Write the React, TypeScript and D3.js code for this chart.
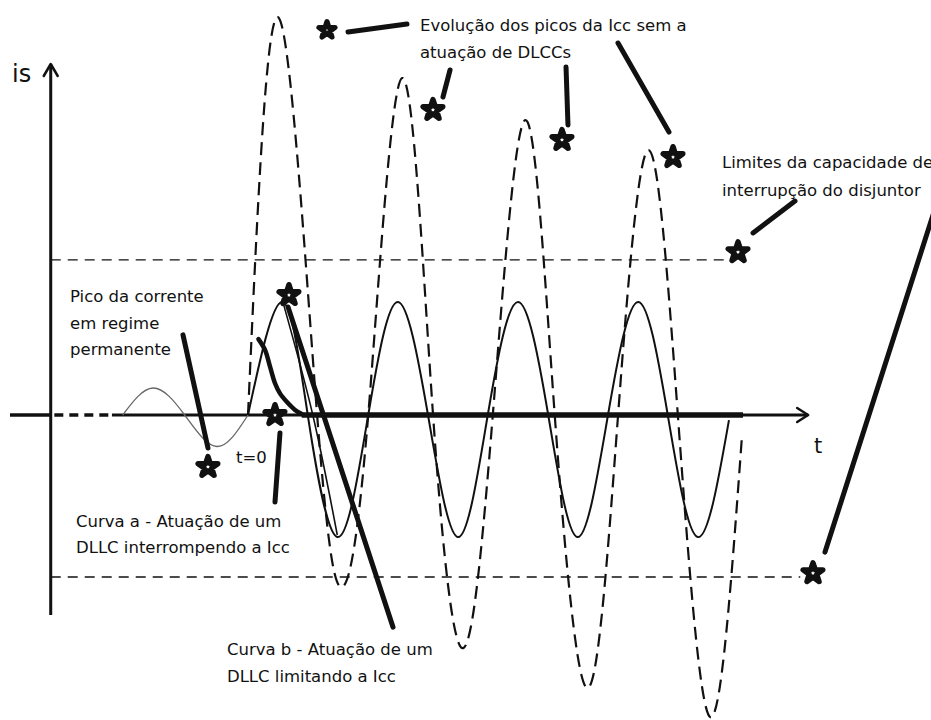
import React from "react";
import * as d3 from "d3";

const W = 931;
const H = 720;

// time in ms (t = 0 at fault inception), current in p.u. of the steady-state peak scale
const steadyT = [-17.4, -13.2, -8.8, -4.3, 0];
const steadyI = [0, 0.9, 0, -1.05, 0];

const faultT = [0, 4.7, 8.3, 12.5, 16.7, 20.8, 25, 29.2, 33.3, 37.5, 41.7, 45.8, 50, 54.2, 58.3, 62.5, 66.8];
const faultI = [0, 3.77, 0, -4.07, 0, 3.77, 0, -4.07, 0, 3.77, 0, -4.07, 0, 3.77, 0, -4.07, -0.17];

const limitedT = [4.9, 9.0, 12.4];
const limitedI = [3.72, 0, -4.0];

const prospectiveT = [0, 4.3, 9.6, 13.1, 16.7, 21.4, 25.7, 29.9, 34.0, 38.5, 42.6, 47.2, 51.4, 55.6, 59.7, 64.2, 68.6];
const prospectiveI = [0, 13.23, 0, -5.73, 0, 11.23, 0, -7.77, 0, 9.83, 0, -9.1, 0, 8.83, 0, -10.07, -0.73];

const curveAT = [1.45, 2.36, 3.06, 3.75, 4.44, 5.38, 6.53, 7.46];
const curveAI = [2.53, 2.17, 1.61, 1.06, 0.72, 0.44, 0.17, 0.03];
const curveAEndT = 68.75;

const limitLevels = [5.17, -5.4];
const limitEndT = [67.6, 76.7];

const axisT = -27.4;
const axisStartT = -33.06;
const axisDashT = [-26.9, -19.2];
const axisSolidT = -18.9;
const axisEndT = 77.8;
const axisIMin = -6.67;
const axisIMax = 11.7;

const starT = [10.97, 25.69, 43.61, 59.03, 68.06, 78.47, 5.69, 3.75, -5.56];
const starI = [12.83, 10.17, 9.17, 8.6, 5.43, -5.27, 4.0, 0, -1.73];
const starBig = [false, true, true, true, true, true, true, true, true];

const leaderT1 = [13.89, 28.06, 44.17, 51.39, 75.97, 95.14, -9.03, 4.44, 5.56];
const leaderI1 = [12.77, 11.5, 11.6, 12.4, 7.13, 6.67, 2.67, -0.6, 3.6];
const leaderT2 = [22.08, 27.08, 44.44, 58.47, 70.14, 80.14, -5.56, 3.75, 20.14];
const leaderI2 = [13.03, 10.6, 9.67, 9.43, 6.07, -4.57, -1.1, -2.9, -7.07];

const labelText = [
  "Evolução dos picos da Icc sem a",
  "atuação de DLCCs",
  "Limites da capacidade de",
  "interrupção do disjuntor",
  "Pico da corrente",
  "em regime",
  "permanente",
  "t=0",
  "Curva a - Atuação de um",
  "DLLC interrompendo a Icc",
  "Curva b - Atuação de um",
  "DLLC limitando a Icc",
];
const labelT = [23.89, 23.89, 65.83, 65.83, -24.72, -24.72, -24.72, -1.67, -23.89, -23.89, -2.92, -2.92];
const labelI = [12.8, 11.9, 8.23, 7.3, 3.77, 2.87, 2.0, -1.6, -3.73, -4.6, -8.0, -8.9];

const yAxisLabel = "is";
const xAxisLabel = "t";

export default function App() {
  const x = d3.scaleLinear().domain([-33, 95]).range([10.4, 932]);
  const y = d3.scaleLinear().domain([-10.2, 13.8]).range([721, 1]);

  const zip = (ts: number[], is: number[]) => ts.map((t, k) => [t, is[k]] as [number, number]);
  const natural = d3
    .line<[number, number]>()
    .x((d) => x(d[0]))
    .y((d) => y(d[1]))
    .curve(d3.curveNatural);
  const catmull = d3
    .line<[number, number]>()
    .x((d) => x(d[0]))
    .y((d) => y(d[1]))
    .curve(d3.curveCatmullRom);

  const star = d3.symbol().type(d3.symbolStar);

  const font = "DejaVu Sans, Verdana, sans-serif";
  const ink = "#111";

  const ax = x(axisT);
  const ay = y(0);
  const vTop = y(axisIMax);
  const hEnd = x(axisEndT);

  return (
    <svg width={W} height={H} style={{ position: "absolute", left: 0, top: 0, background: "#fff" }}>
      <rect x={0} y={0} width={W} height={H} fill="#fff" />

      {/* breaker limits */}
      {limitLevels.map((lv, k) => (
        <line
          key={"lim" + k}
          x1={ax}
          x2={x(limitEndT[k])}
          y1={y(lv)}
          y2={y(lv)}
          stroke={ink}
          strokeWidth={1.4}
          strokeDasharray="10,7"
        />
      ))}

      {/* axes */}
      <line x1={ax} x2={ax} y1={y(axisIMin)} y2={vTop} stroke={ink} strokeWidth={3} />
      <path
        d={`M${ax - 7},${vTop + 12} L${ax},${vTop} L${ax + 7},${vTop + 12}`}
        fill="none"
        stroke={ink}
        strokeWidth={2.5}
        strokeLinecap="round"
        strokeLinejoin="round"
      />
      <line x1={x(axisStartT)} x2={ax} y1={ay} y2={ay} stroke={ink} strokeWidth={3.5} />
      <line
        x1={x(axisDashT[0])}
        x2={x(axisDashT[1])}
        y1={ay}
        y2={ay}
        stroke={ink}
        strokeWidth={3.5}
        strokeDasharray="9,6"
      />
      <line x1={x(axisSolidT)} x2={hEnd} y1={ay} y2={ay} stroke={ink} strokeWidth={3} />
      <path
        d={`M${hEnd - 11},${ay - 7} L${hEnd},${ay} L${hEnd - 11},${ay + 7}`}
        fill="none"
        stroke={ink}
        strokeWidth={2.5}
        strokeLinecap="round"
        strokeLinejoin="round"
      />

      {/* steady-state current */}
      <path d={natural(zip(steadyT, steadyI)) || ""} fill="none" stroke="#666" strokeWidth={1.3} />

      {/* prospective short-circuit current (dashed) */}
      <path
        d={natural(zip(prospectiveT, prospectiveI)) || ""}
        fill="none"
        stroke={ink}
        strokeWidth={2.2}
        strokeDasharray="13,7"
      />

      {/* symmetric fault current */}
      <path d={natural(zip(faultT, faultI)) || ""} fill="none" stroke={ink} strokeWidth={2} />
      <path d={natural(zip(limitedT, limitedI)) || ""} fill="none" stroke={ink} strokeWidth={1.6} />

      {/* curve a : interrupted current */}
      <path
        d={catmull(zip(curveAT, curveAI)) || ""}
        fill="none"
        stroke={ink}
        strokeWidth={4.5}
        strokeLinecap="round"
      />
      <line
        x1={x(curveAT[curveAT.length - 1])}
        x2={x(curveAEndT)}
        y1={ay}
        y2={ay}
        stroke={ink}
        strokeWidth={5.5}
      />

      {/* leader lines */}
      {leaderT1.map((t, k) => (
        <line
          key={"ld" + k}
          x1={x(t)}
          y1={y(leaderI1[k])}
          x2={x(leaderT2[k])}
          y2={y(leaderI2[k])}
          stroke={ink}
          strokeWidth={5}
          strokeLinecap="round"
        />
      ))}

      {/* stars */}
      {starT.map((t, k) => (
        <path
          key={"st" + k}
          d={star.size(starBig[k] ? 120 : 80)() || ""}
          transform={`translate(${x(t)},${y(starI[k])})`}
          fill="#fff"
          stroke={ink}
          strokeWidth={starBig[k] ? 5.4 : 5.2}
          strokeLinejoin="round"
        />
      ))}

      {/* labels */}
      {labelText.map((s, k) => (
        <text key={"lb" + k} x={x(labelT[k])} y={y(labelI[k])} fontFamily={font} fontSize={16.5} fill={ink}>
          {s}
        </text>
      ))}
      <text x={x(-32.78)} y={y(11.1)} fontFamily={font} fontSize={24} fill={ink}>
        {yAxisLabel}
      </text>
      <text x={x(78.6)} y={y(-1.27)} fontFamily={font} fontSize={21} fill={ink}>
        {xAxisLabel}
      </text>
    </svg>
  );
}
